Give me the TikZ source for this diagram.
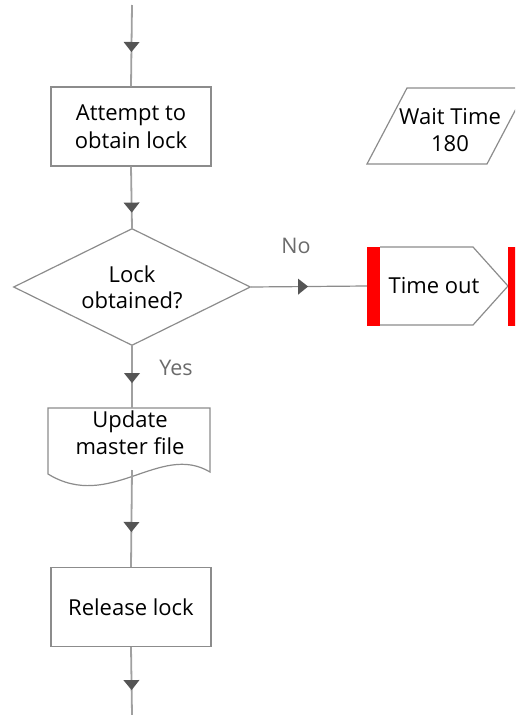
\documentclass[tikz,border=0pt]{standalone}
\usepackage{fontspec}
\setmainfont{Open Sans}
\usetikzlibrary{shapes.geometric,arrows.meta,decorations.markings}

\definecolor{edgegray}{HTML}{8C8C8C}
\definecolor{flowgray}{HTML}{A0A0A0}
\definecolor{tipgray}{HTML}{555555}
\definecolor{labelgray}{HTML}{6B6B6B}
\definecolor{barred}{HTML}{FF0000}

\tikzset{
  boxline/.style={draw=edgegray, line width=1.2pt},
  procbox/.style={boxline, rectangle, minimum width=160pt, minimum height=79pt,
    inner sep=0pt, align=center, font=\fontsize{22}{28}\selectfont},
  decision/.style={boxline, diamond, aspect=2, minimum width=237pt, minimum height=117pt,
    inner sep=0pt, align=center, font=\fontsize{22}{26}\selectfont},
  plaintext/.style={inner sep=0pt, align=center, font=\fontsize{22}{27}\selectfont},
  branchlabel/.style={inner sep=0pt, text=labelgray, font=\fontsize{21.5}{24}\selectfont},
  flow/.style={draw=flowgray, line width=1.8pt},
  flowthin/.style={draw=edgegray, line width=1.2pt},
  tipat/.style={postaction=decorate, decoration={markings,
    mark=at position #1 with {\arrow{Triangle[length=10pt,width=16pt,color=tipgray,fill=tipgray,line width=0pt]}}}},
}

\begin{document}
\begin{tikzpicture}[x=1pt,y=-1pt]
  \useasboundingbox (0,0) rectangle (515,715);
  \clip (0,0) rectangle (515,715);

  % main column
  \coordinate (entry) at (132,5);
  \node[procbox] (attempt) at (131,126.5) {Attempt to\\obtain lock};
  \node[decision] (locked) at (132,287) {Lock\\obtained?};

  % document shape with wavy bottom
  \draw[boxline, fill=white] (48,408) -- (210,408) -- (210,472)
    .. controls (160,442) and (110,512) .. (48,474) -- cycle;
  \coordinate (doctop) at (132,408);
  \coordinate (docbot) at (132,470);
  \node[plaintext] (update) at (130,433) {Update\\master file};

  \node[procbox] (release) at (131,607) {Release lock};
  \coordinate (exit) at (132,715);

  % input/output parallelogram
  \draw[boxline] (407,88) -- (527,88) -- (487,164) -- (367,164) -- cycle;
  \node[plaintext] (wait) at (450,130) {Wait Time\\180};

  % time-out branch
  \draw[boxline] (380,247) -- (473,247) -- (508,286) -- (473,325) -- (380,325);
  \node[plaintext] (timeout) at (434,286) {Time out};
  \node[fill=barred, minimum width=13pt, minimum height=79pt, inner sep=0pt] (barL) at (373.5,286) {};
  \node[fill=barred, minimum width=13pt, minimum height=79pt, inner sep=0pt] (barR) at (514.5,286) {};

  % connectors
  \draw[flow, tipat=47pt] (entry) -- (attempt.north);
  \draw[flow, tipat=46pt] (attempt.south) -- (locked.north);
  \draw[flowthin, tipat=57pt] (locked.east) -- (barL.west);
  \draw[flow, tipat=37pt] (locked.south) -- (doctop);
  \draw[flow, tipat=62pt] (docbot) -- (release.north);
  \draw[flow, tipat=43pt] (release.south) -- (exit);

  % branch labels
  \node[branchlabel] (no) at (296,246) {No};
  \node[branchlabel] (yes) at (176,368) {Yes};
\end{tikzpicture}
\end{document}
